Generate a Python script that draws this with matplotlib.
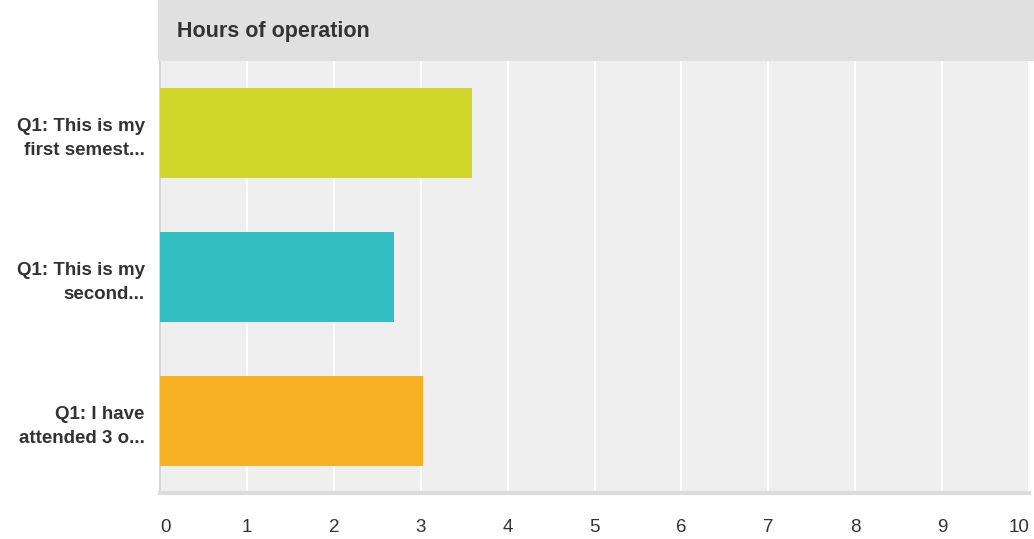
import matplotlib
matplotlib.use("Agg")

import matplotlib.pyplot as plt
from matplotlib.patches import Rectangle

# Data
categories = ["Q1: This is my\nfirst semest...", "Q1: This is my\nsecond...", "Q1: I have\nattended 3 o..."]
values = [3.59, 2.69, 3.03]
colors = ["#D0D62A", "#33BFC1", "#F7B021"]
xticks = list(range(0, 11))
title = "Hours of operation"

plt.rcParams["font.family"] = ["Liberation Sans", "DejaVu Sans"]

fig = plt.figure(figsize=(10.34, 5.39), dpi=100)

# grey header band
fig.patches.append(Rectangle((158 / 1034, 1 - 61 / 539), 1 - 158 / 1034, 61 / 539,
                             transform=fig.transFigure, facecolor="#E0E0E0",
                             edgecolor="none", zorder=0))
fig.text(177 / 1034, 1 - 31 / 539, title, fontsize=15.5, fontweight="bold",
         color="#333333", va="center", ha="left")

ax = fig.add_axes([160 / 1034, (539 - 493) / 539, 869 / 1034, 432 / 539])
ax.set_facecolor("#EFEFEF")

ypos = list(range(len(categories)))
ax.barh(ypos, values, height=0.63, color=colors, zorder=3)
ax.set_ylim(len(categories) - 0.5, -0.5)
ax.set_xlim(0, 10)

ax.set_xticks(xticks)
ax.set_xticklabels([str(t) for t in xticks], fontsize=13.5, color="#333333")
labels = ax.get_xticklabels()
labels[0].set_ha("left")
labels[-1].set_ha("right")
ax.tick_params(axis="x", length=0, pad=19)

ax.set_yticks(ypos)
ax.set_yticklabels(categories, fontsize=13.5, fontweight="bold", color="#333333",
                   linespacing=1.55)
ax.tick_params(axis="y", length=0, pad=11)

ax.grid(axis="x", color="white", linewidth=1.5, zorder=1)
ax.set_axisbelow(True)

for side in ["top", "right"]:
    ax.spines[side].set_visible(False)
ax.spines["left"].set_color("#D0D0D0")
ax.spines["left"].set_linewidth(1.2)
ax.spines["bottom"].set_color("#DCDCDC")
ax.spines["bottom"].set_linewidth(3)

plt.savefig("out.png", dpi=100)
